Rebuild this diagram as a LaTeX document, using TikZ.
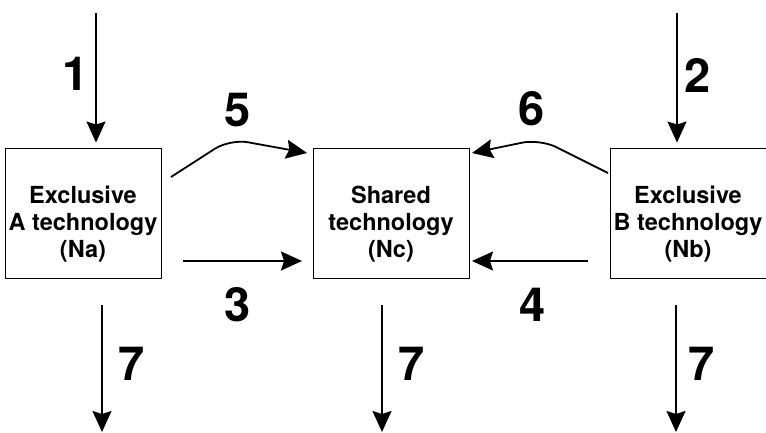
\documentclass[tikz,border=0pt]{standalone}
\usepackage{fontspec}
\setmainfont{TeX Gyre Heros}
\usetikzlibrary{arrows.meta}
\begin{document}
\begin{tikzpicture}[x=1pt,y=-1pt,
  box/.style={draw, line width=0.9pt, minimum width=156pt, minimum height=130pt, inner sep=0pt},
  boxtext/.style={align=center, font=\fontsize{23.5}{27}\selectfont\bfseries},
  num/.style={font=\fontsize{47}{47}\selectfont\bfseries},
  flow/.style={line width=1.8pt, -{Stealth[length=21pt, width=19pt, inset=3pt]}}]
\useasboundingbox (0,0) rectangle (766,432);

% technology boxes
\node[box] (a) at (83,213) {};
\node[box] (c) at (391,213) {};
\node[box] (b) at (688,213) {};
\node[boxtext] (at) at (83,224) {Exclusive\\A technology\\(Na)};
\node[boxtext] (ct) at (391,224) {Shared\\technology\\(Nc)};
\node[boxtext] (bt) at (688,224) {Exclusive\\B technology\\(Nb)};

% free ends of the flows
\coordinate (in1) at (96,13);
\coordinate (in2) at (677,13);
\coordinate (s5) at (171,177);
\coordinate (k5) at (230,139);
\coordinate (e5) at (307,153);
\coordinate (s6) at (608,173);
\coordinate (k6) at (540,139);
\coordinate (e6) at (472,153);
\coordinate (s3) at (183,261);
\coordinate (e3) at (302,261);
\coordinate (s4) at (588,261);
\coordinate (e4) at (472,261);
\coordinate (oa) at (102,432);
\coordinate (oc) at (382,432);
\coordinate (ob) at (676,432);

% inflows
\draw[flow, shorten >=5pt] (in1) -- (in1 |- a.north);
\draw[flow, shorten >=5pt] (in2) -- (in2 |- b.north);

% transfers into the shared technology
\draw[flow, rounded corners=18pt] (s5) -- (k5) -- (e5);
\draw[flow, rounded corners=18pt] (s6) -- (k6) -- (e6);
\draw[flow] (s3) -- (e3);
\draw[flow] (s4) -- (e4);

% outflows
\draw[flow, shorten <=27pt] (oa |- a.south) -- (oa);
\draw[flow, shorten <=27pt] (oc |- c.south) -- (oc);
\draw[flow, shorten <=27pt] (ob |- b.south) -- (ob);

% flow numbers
\node[num] (n1) at (76,74) {1};
\node[num] (n2) at (698,75) {2};
\node[num] (n5) at (238,110) {5};
\node[num] (n6) at (532,109) {6};
\node[num] (n3) at (238,305) {3};
\node[num] (n4) at (533,305) {4};
\node[num] (n7a) at (132,364) {7};
\node[num] (n7c) at (412,364) {7};
\node[num] (n7b) at (702,364) {7};
\end{tikzpicture}
\end{document}
